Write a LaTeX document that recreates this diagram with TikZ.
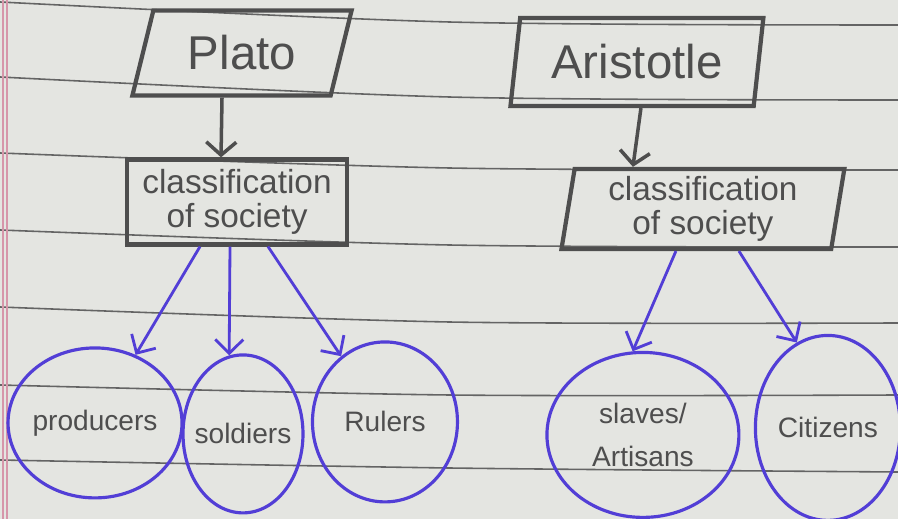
\documentclass[tikz,border=0pt]{standalone}
\usepackage{fontspec}
\setmainfont{Liberation Sans}
\usepackage{tikz}
\usetikzlibrary{positioning}
\usetikzlibrary{arrows.meta}
\usetikzlibrary{shapes.geometric}
\definecolor{paper}{RGB}{228,229,225}
\definecolor{ruling}{RGB}{100,100,100}
\definecolor{pen}{RGB}{78,78,78}
\definecolor{ink}{RGB}{82,62,214}
\definecolor{margin}{RGB}{214,150,170}

\begin{document}
\begin{tikzpicture}[x=0.02cm,y=0.02cm,on grid,
		box/.style={trapezium,trapezium stretches=true,draw=pen,line width=2.4pt,text=pen,inner sep=2pt},
		thinker/.style={box,font=\fontsize{27}{30}\selectfont},
		kinds/.style={box,align=center,font=\fontsize{19}{19}\selectfont},
		group/.style={ellipse,draw=ink,line width=1.8pt,text=pen,inner sep=-4pt,align=center,
			font=\fontsize{16}{25}\selectfont},
		rule/.style={draw=ruling,line width=0.9pt},
		link/.style={draw=pen,line width=2pt,-{Straight Barb[length=2.6mm,width=6mm]}},
		flow/.style={draw=ink,line width=1.6pt,-{Straight Barb[length=2.8mm,width=5.6mm]}}]
		\fill[paper] (0,0) rectangle (898,519);
		\useasboundingbox (0,0) rectangle (898,519);
		
		% paper
		\foreach \l/\m/\r in {517/497/494, 442/422/419, 366/351/349, 289/274/272, 212/197/196, 134/124/124, 59/51/47}
		\draw[rule] plot[smooth] coordinates {(0,\l) (449,\m) (898,\r)};
		\draw[margin,line width=0.6pt] (3,0) -- (3,519) (7,0) -- (7,519);
		
		\node[thinker,trapezium left angle=72,trapezium right angle=108,minimum width=4.4cm,minimum height=1.7cm] (plato) at (242,466) {Plato};
		\node[thinker,trapezium left angle=80,trapezium right angle=100,minimum width=5.06cm,minimum height=1.76cm] (aris) [right=7.9cm of plato,yshift=-0.18cm] {Aristotle};
		\node[kinds,rectangle,minimum width=4.4cm,minimum height=1.7cm] (cp) [below=2.98cm of plato,xshift=-0.1cm] {classification\\of society};
		\node[kinds,trapezium left angle=82,trapezium right angle=98,minimum width=5.66cm,minimum height=1.6cm] (ca) [below=2.94cm of aris,xshift=1.32cm] {classification\\of society};
		
		\node[group,minimum width=2.4cm,minimum height=3.16cm] (sold) [below=4.64cm of cp,xshift=0.12cm] {soldiers};
		\node[group,minimum width=3.48cm,minimum height=3cm] (prod) [left=2.96cm of sold,yshift=0.22cm] {producers};
		\node[group,minimum width=2.9cm,minimum height=3.2cm] (rul) [right=2.84cm of sold,yshift=0.24cm] {Rulers};
		\node[group,minimum width=3.84cm,minimum height=3.3cm] (slav) [below=4.52cm of ca,xshift=-1.2cm] {slaves/\\Artisans};
		\node[group,minimum width=2.9cm,minimum height=3.7cm] (citi) [right=3.7cm of slav,yshift=0.14cm] {Citizens};
		
		\path
		([shift={(-20,0)}]plato.south) edge[link] ([shift={(-16,0)}]cp.north)
		([shift={(4,0)}]aris.south) edge[link] ([shift={(-70,0)}]ca.north);
		
		\path
		([shift={(-37,0)}]cp.south) edge[flow] (prod)
		([shift={(-7,0)}]cp.south) edge[flow] (sold.100)
		([shift={(31,0)}]cp.south) edge[flow] (rul)
		([shift={(-27,0)}]ca.south) edge[flow] (slav.97)
		([shift={(36,0)}]ca.south) edge[flow] (citi.110);
\end{tikzpicture}
\end{document}
